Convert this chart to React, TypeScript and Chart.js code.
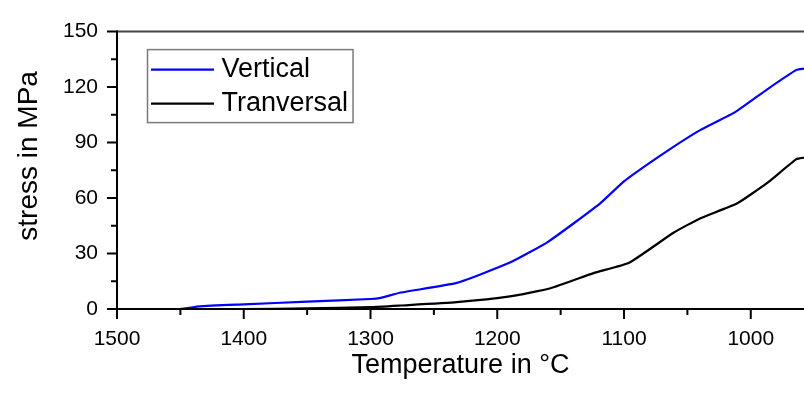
import React, { useEffect, useRef } from 'react';
import { Chart, registerables } from 'chart.js';

Chart.register(...registerables);

// ---- data ----
const seriesNames = ['Vertical', 'Tranversal'];

const verticalTemps = [1500, 1450, 1435, 1400, 1350, 1300, 1292, 1276, 1232, 1190, 1160, 1119, 1100, 1069, 1040, 1012, 987, 964, 958];
const verticalStress = [0, 0, 1.4, 2.5, 4.0, 5.4, 6.0, 8.9, 14.1, 25.1, 36.3, 57, 69, 84, 96.7, 106.6, 118.8, 129.3, 130];

const transTemps = [1500, 1400, 1350, 1300, 1276, 1232, 1190, 1158, 1124, 1096, 1061, 1040, 1011, 987, 964, 958];
const transStress = [0, 0, 0.3, 1.0, 1.9, 3.7, 6.8, 11.2, 19.4, 25, 41.2, 49, 57, 68.2, 81, 81.8];

const xMajorTicks = [1500, 1400, 1300, 1200, 1100, 1000];
const xMinorTicks = [1450, 1350, 1250, 1150, 1050];
const yMajorTicks = [0, 30, 60, 90, 120, 150];
const yMinorTicks = [15, 45, 75, 105, 135];

const xTitle = 'Temperature in °C';
const yTitle = 'stress in MPa';

const FONT = '"Liberation Sans", Arial, Helvetica, sans-serif';

const framePlugin = {
  id: 'framePlugin',
  afterDraw(chart: any) {
    const { ctx, chartArea: ca, scales } = chart;
    const x = scales.x;
    const y = scales.y;
    ctx.save();

    // top border
    ctx.strokeStyle = '#444';
    ctx.lineWidth = 2;
    ctx.beginPath();
    ctx.moveTo(ca.left, ca.top);
    ctx.lineTo(ca.right, ca.top);
    ctx.stroke();

    // axes
    ctx.strokeStyle = '#000';
    ctx.lineWidth = 2;
    ctx.beginPath();
    ctx.moveTo(ca.left, ca.top - 1);
    ctx.lineTo(ca.left, ca.bottom);
    ctx.moveTo(ca.left - 1, ca.bottom);
    ctx.lineTo(ca.right, ca.bottom);
    ctx.stroke();

    // ticks
    ctx.beginPath();
    yMajorTicks.forEach((v) => {
      const p = y.getPixelForValue(v);
      ctx.moveTo(ca.left - 10, p);
      ctx.lineTo(ca.left, p);
    });
    yMinorTicks.forEach((v) => {
      const p = y.getPixelForValue(v);
      ctx.moveTo(ca.left - 6, p);
      ctx.lineTo(ca.left, p);
    });
    xMajorTicks.forEach((v) => {
      const p = x.getPixelForValue(v);
      if (p < ca.left - 1 || p > ca.right + 1) return;
      ctx.moveTo(p, ca.bottom);
      ctx.lineTo(p, ca.bottom + 10);
    });
    xMinorTicks.forEach((v) => {
      const p = x.getPixelForValue(v);
      if (p < ca.left - 1 || p > ca.right + 1) return;
      ctx.moveTo(p, ca.bottom);
      ctx.lineTo(p, ca.bottom + 6);
    });
    ctx.stroke();

    // y title
    ctx.save();
    ctx.translate(37, ca.top + (ca.bottom - ca.top) * 0.448);
    ctx.rotate(-Math.PI / 2);
    ctx.font = `28px ${FONT}`;
    ctx.fillStyle = '#000';
    ctx.textAlign = 'center';
    ctx.textBaseline = 'alphabetic';
    ctx.fillText(yTitle, 0, 0);
    ctx.restore();

    // legend
    ctx.font = `27px ${FONT}`;
    const boxL = ca.left + 30.5;
    const boxT = ca.top + 18;
    const lineX0 = ca.left + 34;
    const lineX1 = ca.left + 97;
    const textX = ca.left + 104.5;
    const rowH = 34;
    const row0 = ca.top + 38;
    const maxW = Math.max(...seriesNames.map((n) => ctx.measureText(n).width));
    const boxR = textX + maxW + 5;
    const boxB = row0 + rowH + 19;
    ctx.fillStyle = '#fff';
    ctx.fillRect(boxL, boxT, boxR - boxL, boxB - boxT);
    ctx.strokeStyle = '#7a7a7a';
    ctx.lineWidth = 1.5;
    ctx.strokeRect(boxL, boxT, boxR - boxL, boxB - boxT);
    chart.data.datasets.forEach((ds: any, i: number) => {
      const cy = row0 + i * rowH;
      ctx.strokeStyle = ds.borderColor;
      ctx.lineWidth = 2.2;
      ctx.beginPath();
      ctx.moveTo(lineX0, cy);
      ctx.lineTo(lineX1, cy);
      ctx.stroke();
      ctx.fillStyle = '#000';
      ctx.textAlign = 'left';
      ctx.textBaseline = 'middle';
      ctx.fillText(ds.label, textX, cy);
    });

    ctx.restore();
  },
};

export default function App() {
  const ref = useRef<HTMLCanvasElement>(null);

  useEffect(() => {
    if (!ref.current) return;
    const chart = new Chart(ref.current, {
      type: 'line',
      data: {
        datasets: [
          {
            label: seriesNames[0],
            data: verticalTemps.map((t, i) => ({ x: t, y: verticalStress[i] })),
            borderColor: '#0000ff',
            borderWidth: 2.2,
            pointRadius: 0,
            tension: 0.15,
            fill: false,
          },
          {
            label: seriesNames[1],
            data: transTemps.map((t, i) => ({ x: t, y: transStress[i] })),
            borderColor: '#000000',
            borderWidth: 2.2,
            pointRadius: 0,
            tension: 0.15,
            fill: false,
          },
        ],
      },
      options: {
        responsive: false,
        animation: false,
        devicePixelRatio: 1,
        layout: { padding: { top: 21, right: 0, left: 0, bottom: 0 } },
        plugins: {
          legend: { display: false },
          tooltip: { enabled: false },
        },
        scales: {
          x: {
            type: 'linear',
            reverse: true,
            min: 958,
            max: 1500,
            afterBuildTicks: (s: any) => {
              s.ticks = xMajorTicks.map((v) => ({ value: v }));
            },
            afterFit: (s: any) => {
              s.height = 85;
            },
            grid: { display: false, drawTicks: false },
            border: { display: false },
            ticks: {
              color: '#000',
              font: { size: 21, family: FONT },
              padding: 18,
              maxRotation: 0,
              autoSkip: false,
              callback: (v: any) => String(v),
            },
            title: {
              display: true,
              text: xTitle,
              color: '#000',
              font: { size: 27, family: FONT },
              padding: { top: 0, bottom: 12 },
            },
          },
          y: {
            type: 'linear',
            min: 0,
            max: 150,
            afterBuildTicks: (s: any) => {
              s.ticks = yMajorTicks.map((v) => ({ value: v }));
            },
            afterFit: (s: any) => {
              s.width = 117;
            },
            grid: { display: false, drawTicks: false },
            border: { display: false },
            ticks: {
              color: '#000',
              font: { size: 21, family: FONT },
              padding: 19,
              callback: (v: any) => String(v),
            },
            title: { display: false },
          },
        },
      },
      plugins: [framePlugin],
    });
    return () => chart.destroy();
  }, []);

  return (
    <div style={{ position: 'fixed', left: 0, top: 0, width: 804, height: 394, background: '#fff' }}>
      <canvas ref={ref} width={804} height={394} style={{ display: 'block' }} />
    </div>
  );
}
